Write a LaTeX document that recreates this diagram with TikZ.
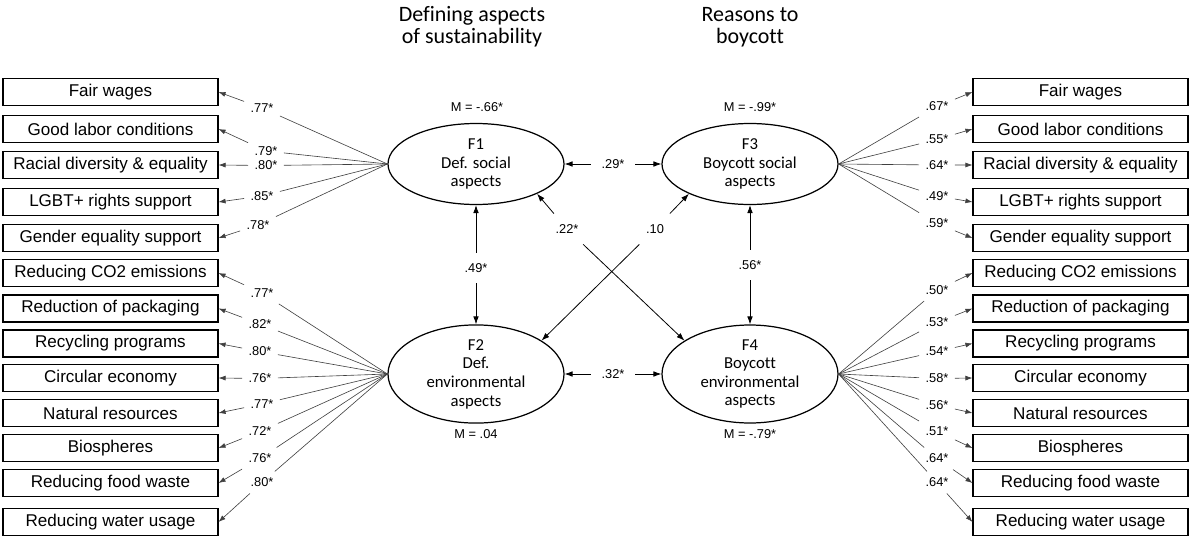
\documentclass[tikz,border=0pt]{standalone}
\usepackage{fontspec}
\setmainfont{Liberation Sans}
\newfontfamily\carlito[Ligatures=NoCommon]{Carlito}
\usetikzlibrary{positioning,shapes.geometric,arrows.meta}

\begin{document}
\begin{tikzpicture}[x=0.2mm,y=-0.2mm,
     item/.style={draw,line width=0.6pt,minimum width=43mm,minimum height=5.4mm,inner sep=0pt,font=\fontsize{9.7}{11}\selectfont},
     factor/.style={ellipse,draw,line width=0.7pt,minimum width=35.2mm,minimum height=16.2mm,inner sep=0pt,align=center,font=\carlito\fontsize{9.5}{10.6}\selectfont},
     load/.style={draw=black!75,line width=0.35pt,-{Latex[length=4pt,width=2.8pt]}},
     coef/.style={inner sep=3.5pt,font=\fontsize{7.3}{8}\selectfont},
     pcoef/.style={inner sep=6pt,font=\fontsize{7.3}{8}\selectfont},
     corr/.style={line width=0.45pt,-{Latex[length=4.5pt,width=3.2pt]}},
     title/.style={align=center,font=\carlito\fontsize{12.5}{12.7}\selectfont}
    ]
   \useasboundingbox (0,0) rectangle (1189,536);

   \node[title] (t1) at (472,27) {Defining aspects\\of sustainability};
   \node[title] (t2) at (750,27) {Reasons to\\boycott};

   \node[factor] (F1) at (476,164) {F1\\Def. social\\aspects};
   \node[factor] (F2) at (476,374) {F2\\Def.\\environmental\\aspects};
   \node[factor] (F3) at (750,164) {F3\\Boycott social\\aspects};
   \node[factor] (F4) at (750,374) {F4\\Boycott\\environmental\\aspects};

   \node[coef] (m1) at (477,107) {M = -.66*};
   \node[coef] (m2) at (476,434) {M = .04};
   \node[coef] (m3) at (750,107) {M = -.99*};
   \node[coef] (m4) at (750,434) {M = -.79*};

   % indicators
   \node[item] (l1) at (110.5,92) {Fair wages};
   \node[item] (l2) at (110.5,129) {Good labor conditions};
   \node[item] (l3) at (110.5,165) {Racial diversity \& equality};
   \node[item] (l4) at (110.5,202) {LGBT+ rights support};
   \node[item] (l5) at (110.5,238) {Gender equality support};
   \node[item] (l6) at (110.5,273) {Reducing CO2 emissions};
   \node[item] (l7) at (110.5,308.5) {Reduction of packaging};
   \node[item] (l8) at (110.5,343.5) {Recycling programs};
   \node[item] (l9) at (110.5,378) {Circular economy};
   \node[item] (l10) at (110.5,413) {Natural resources};
   \node[item] (l11) at (110.5,448) {Biospheres};
   \node[item] (l12) at (110.5,483) {Reducing food waste};
   \node[item] (l13) at (110.5,522) {Reducing water usage};

   \node[item] (r1) at (1080.5,92) {Fair wages};
   \node[item] (r2) at (1080.5,129) {Good labor conditions};
   \node[item] (r3) at (1080.5,165) {Racial diversity \& equality};
   \node[item] (r4) at (1080.5,202) {LGBT+ rights support};
   \node[item] (r5) at (1080.5,238) {Gender equality support};
   \node[item] (r6) at (1080.5,273) {Reducing CO2 emissions};
   \node[item] (r7) at (1080.5,308.5) {Reduction of packaging};
   \node[item] (r8) at (1080.5,343.5) {Recycling programs};
   \node[item] (r9) at (1080.5,378) {Circular economy};
   \node[item] (r10) at (1080.5,413) {Natural resources};
   \node[item] (r11) at (1080.5,448) {Biospheres};
   \node[item] (r12) at (1080.5,483) {Reducing food waste};
   \node[item] (r13) at (1080.5,522) {Reducing water usage};

   % loadings
   \node[coef] (a1) at (262,108) {.77*};
   \node[coef] (a2) at (266,151) {.79*};
   \node[coef] (a3) at (266,165.5) {.80*};
   \node[coef] (a4) at (262,196) {.85*};
   \node[coef] (a5) at (258,225) {.78*};
   \node[coef] (a6) at (262,293) {.77*};
   \node[coef] (a7) at (260,324) {.82*};
   \node[coef] (a8) at (260,351.5) {.80*};
   \node[coef] (a9) at (260,378.5) {.76*};
   \node[coef] (a10) at (262,404) {.77*};
   \node[coef] (a11) at (260,431.5) {.72*};
   \node[coef] (a12) at (260,458.5) {.76*};
   \node[coef] (a13) at (262,482.5) {.80*};

   \node[coef] (b1) at (937,106.5) {.67*};
   \node[coef] (b2) at (937,139.5) {.55*};
   \node[coef] (b3) at (937,165) {.64*};
   \node[coef] (b4) at (937,196) {.49*};
   \node[coef] (b5) at (937,223.5) {.59*};
   \node[coef] (b6) at (937,290) {.50*};
   \node[coef] (b7) at (937,322.5) {.53*};
   \node[coef] (b8) at (937,351.5) {.54*};
   \node[coef] (b9) at (937,378.5) {.58*};
   \node[coef] (b10) at (937,405) {.56*};
   \node[coef] (b11) at (937,431.5) {.51*};
   \node[coef] (b12) at (937,458.5) {.64*};
   \node[coef] (b13) at (937,482.5) {.64*};

   \draw[load] (F1.west) -- (a1) -- (l1.east);
   \draw[load] (F1.west) -- (a2) -- (l2.east);
   \draw[load] (F1.west) -- (a3) -- (l3.east);
   \draw[load] (F1.west) -- (a4) -- (l4.east);
   \draw[load] (F1.west) -- (a5) -- (l5.east);
   \draw[load] (F2.west) -- (a6) -- (l6.east);
   \draw[load] (F2.west) -- (a7) -- (l7.east);
   \draw[load] (F2.west) -- (a8) -- (l8.east);
   \draw[load] (F2.west) -- (a9) -- (l9.east);
   \draw[load] (F2.west) -- (a10) -- (l10.east);
   \draw[load] (F2.west) -- (a11) -- (l11.east);
   \draw[load] (F2.west) -- (a12) -- (l12.east);
   \draw[load] (F2.west) -- (a13) -- (l13.east);

   \draw[load] (F3.east) -- (b1) -- (r1.west);
   \draw[load] (F3.east) -- (b2) -- (r2.west);
   \draw[load] (F3.east) -- (b3) -- (r3.west);
   \draw[load] (F3.east) -- (b4) -- (r4.west);
   \draw[load] (F3.east) -- (b5) -- (r5.west);
   \draw[load] (F4.east) -- (b6) -- (r6.west);
   \draw[load] (F4.east) -- (b7) -- (r7.west);
   \draw[load] (F4.east) -- (b8) -- (r8.west);
   \draw[load] (F4.east) -- (b9) -- (r9.west);
   \draw[load] (F4.east) -- (b10) -- (r10.west);
   \draw[load] (F4.east) -- (b11) -- (r11.west);
   \draw[load] (F4.east) -- (b12) -- (r12.west);
   \draw[load] (F4.east) -- (b13) -- (r13.west);

   % factor correlations, drawn out from the label to both ends
   \node[pcoef] (c1) at (613,164) {.29*};
   \node[pcoef] (c2) at (476,268) {.49*};
   \node[pcoef] (c3) at (750,265) {.56*};
   \node[pcoef] (c4) at (613,374) {.32*};
   \node[pcoef] (c5) at (567,229) {.22*};
   \node[pcoef] (c6) at (655,229) {.10};

   \draw[corr] (c1) -- (F1);
   \draw[corr] (c1) -- (F3);
   \draw[corr] (c2) -- (F1);
   \draw[corr] (c2) -- (F2);
   \draw[corr] (c3) -- (F3);
   \draw[corr] (c3) -- (F4);
   \draw[corr] (c4) -- (F2);
   \draw[corr] (c4) -- (F4);
   \draw[corr] (c5) -- (F1.-26);
   \draw[corr] (c5) -- (F4.153);
   \draw[corr] (c6) -- (F3.206);
   \draw[corr] (c6) -- (F2.27);
 \end{tikzpicture}
\end{document}
